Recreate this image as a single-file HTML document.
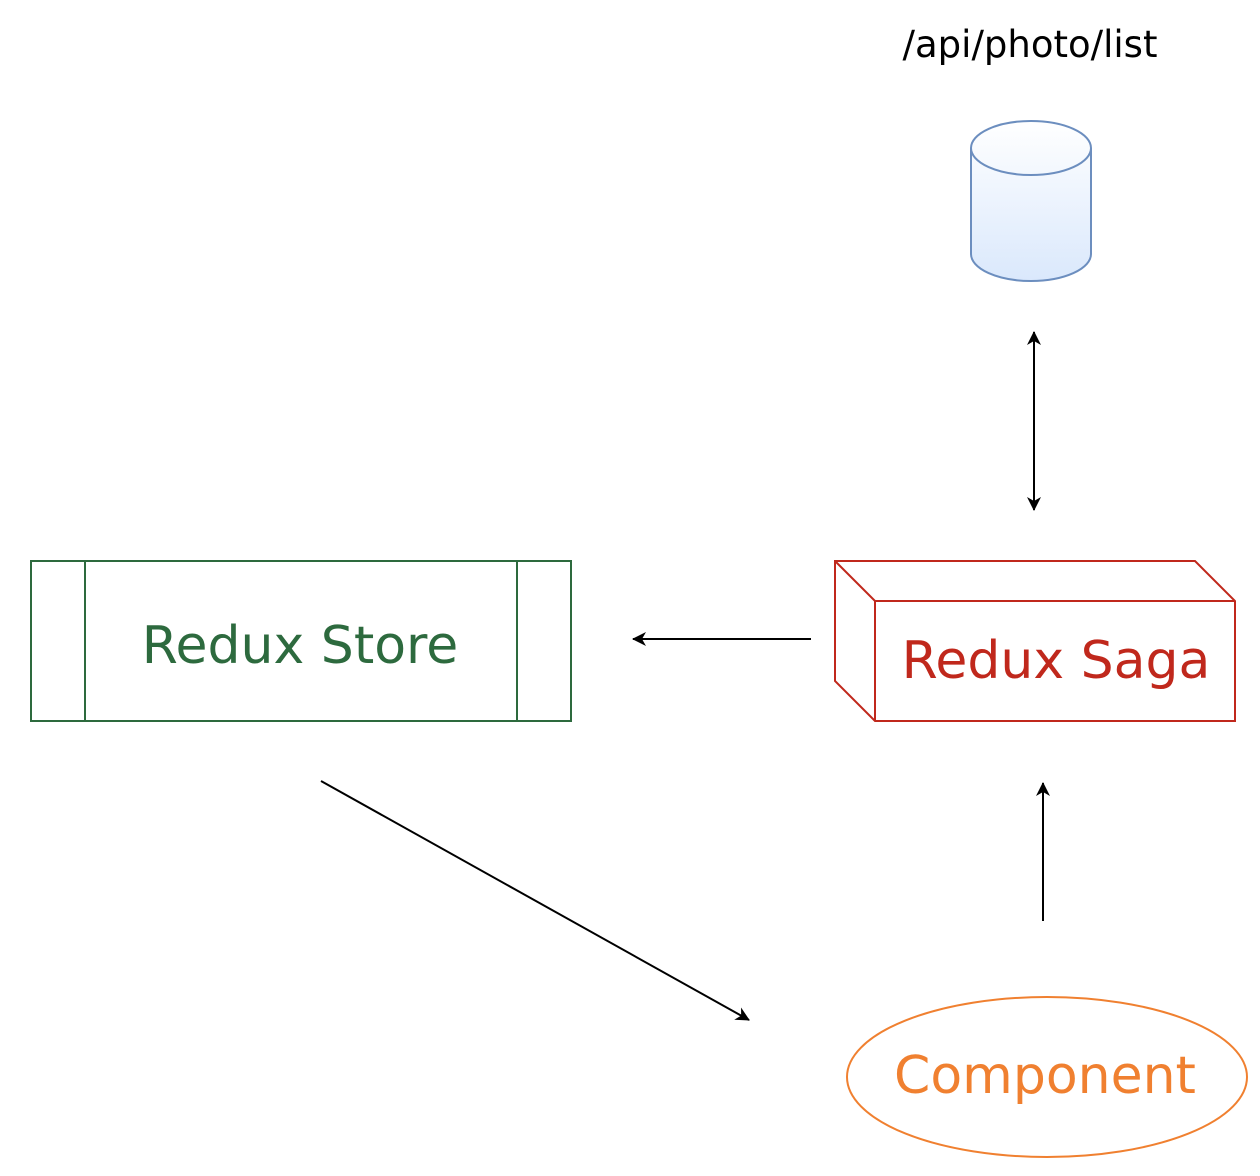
<!DOCTYPE html>
<html><head><meta charset="utf-8"><style>html,body{margin:0;padding:0;background:#fff}svg{display:block}</style></head>
<body>
<svg width="1260" height="1176" viewBox="0 0 1260 1176" xmlns="http://www.w3.org/2000/svg" font-family="'DejaVu Sans', 'Liberation Sans', sans-serif">
<defs>
<linearGradient id="g" x1="0" y1="0" x2="0" y2="1"><stop offset="0" stop-color="#ffffff"/><stop offset="1" stop-color="#dae8fc"/></linearGradient>
<marker id="a" markerWidth="15" markerHeight="15" refX="13" refY="7" orient="auto" markerUnits="userSpaceOnUse"><path d="M0,0 L14,7 L0,14 L4,7 Z" fill="#000"/></marker>
<marker id="s" markerWidth="15" markerHeight="15" refX="1" refY="7" orient="auto" markerUnits="userSpaceOnUse"><path d="M14,0 L0,7 L14,14 L10,7 Z" fill="#000"/></marker>
</defs>
<text x="1030" y="57" style="font-size:37px" text-anchor="middle" fill="#000">/api/photo/list</text>
<path d="M971,148 A60,27 0 0 1 1091,148 L1091,254 A60,27 0 0 1 971,254 Z" fill="url(#g)" stroke="#6c8ebf" stroke-width="2"/>
<path d="M971,148 A60,27 0 0 0 1091,148" fill="none" stroke="#6c8ebf" stroke-width="2"/>
<line x1="1034" y1="332" x2="1034" y2="510" stroke="#000" stroke-width="2" marker-start="url(#s)" marker-end="url(#a)"/>
<rect x="31" y="561" width="540" height="160" fill="#fff" stroke="#2d6a3e" stroke-width="2"/>
<line x1="85" y1="561" x2="85" y2="721" stroke="#2d6a3e" stroke-width="2"/>
<line x1="517" y1="561" x2="517" y2="721" stroke="#2d6a3e" stroke-width="2"/>
<text x="300" y="663" style="font-size:52px" text-anchor="middle" fill="#2d6a3e">Redux Store</text>
<line x1="811" y1="639" x2="633" y2="639" stroke="#000" stroke-width="2" marker-end="url(#a)"/>
<path d="M835,561 L1195,561 L1235,601 L1235,721 L875,721 L835,681 Z" fill="#fff" stroke="#c0281c" stroke-width="2"/>
<path d="M835,561 L875,601 L1235,601 M875,601 L875,721" fill="none" stroke="#c0281c" stroke-width="2"/>
<text x="1056" y="678" style="font-size:52px" text-anchor="middle" fill="#c0281c">Redux Saga</text>
<line x1="1043" y1="921" x2="1043" y2="783" stroke="#000" stroke-width="2" marker-end="url(#a)"/>
<line x1="321" y1="781" x2="749" y2="1020" stroke="#000" stroke-width="2" marker-end="url(#a)"/>
<ellipse cx="1047" cy="1077" rx="200" ry="80" fill="#fff" stroke="#f08030" stroke-width="2"/>
<text x="1045" y="1093" style="font-size:52px" text-anchor="middle" fill="#f08030">Component</text>
</svg>
</body></html>
